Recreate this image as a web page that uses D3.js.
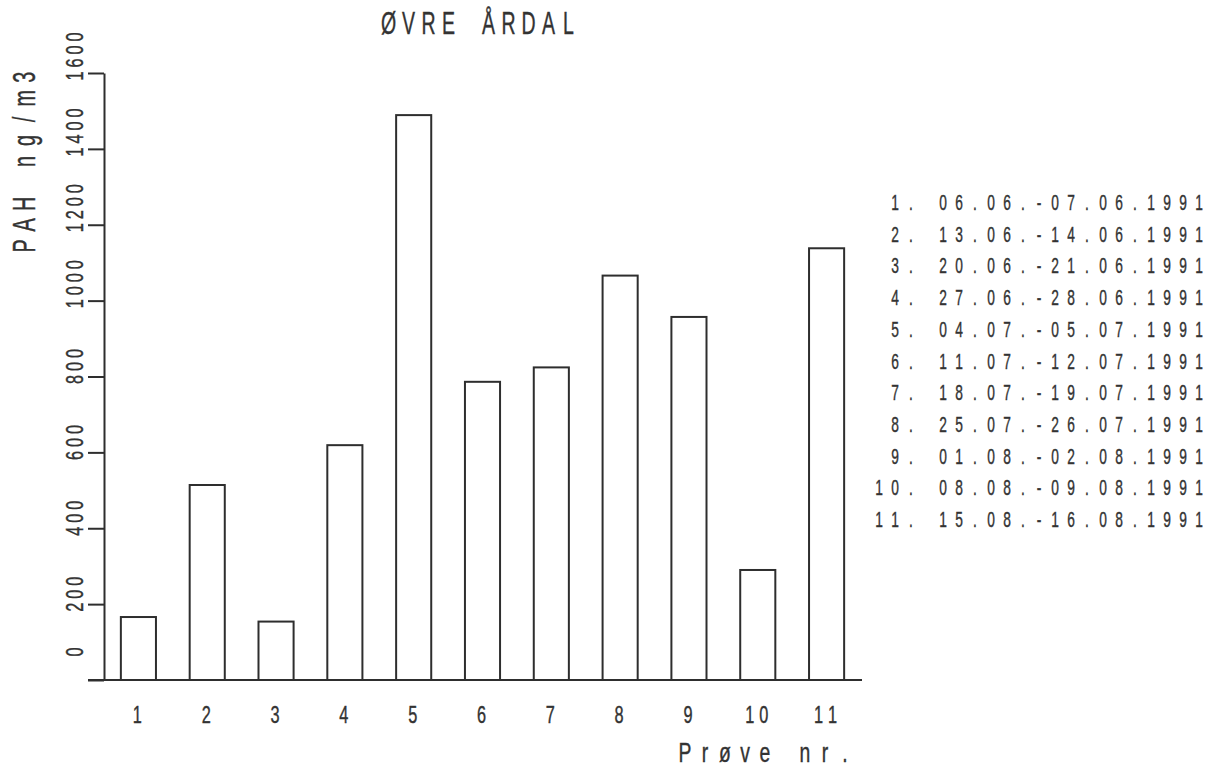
<!DOCTYPE html>
<html>
<head>
<meta charset="utf-8">
<script src="https://cdn.jsdelivr.net/npm/d3@7"></script>
<style>
  html, body { margin: 0; padding: 0; background: #ffffff; }
  svg { display: block; }
  text { font-family: "Liberation Sans", "DejaVu Sans", sans-serif; fill: #333333; stroke: #333333; stroke-width: 0.4; white-space: pre; }
</style>
</head>
<body>
<script>
// ---- data ----
const categories = ["1", "2", "3", "4", "5", "6", "7", "8", "9", "10", "11"];
const values = [166, 514, 154, 619, 1489, 786, 824, 1066, 957, 290, 1138];
const yTicks = [0, 200, 400, 600, 800, 1000, 1200, 1400, 1600];
const periods = [
  "06.06.-07.06.1991", "13.06.-14.06.1991", "20.06.-21.06.1991",
  "27.06.-28.06.1991", "04.07.-05.07.1991", "11.07.-12.07.1991",
  "18.07.-19.07.1991", "25.07.-26.07.1991", "01.08.-02.08.1991",
  "08.08.-09.08.1991", "15.08.-16.08.1991"
];
const title = "ØVRE ÅRDAL";
const yTitle = "PAH ng/m3";
const xTitle = "Prøve nr.";

// ---- layout ----
const W = 1214, H = 769;
const INK = "#2e2e2e";
const svg = d3.select("body").append("svg").attr("width", W).attr("height", H);

const y = d3.scaleLinear().domain([0, 1600]).range([680, 73]);
const x = d3.scaleBand().domain(categories).range([104, 861])
  .paddingInner(0.49).paddingOuter(0.245);

// plotter-style text: fixed advance per character, narrow glyphs
function plotText(str, ox, oy, adv, size, sx, rot) {
  const g = svg.append("g")
    .attr("transform", `translate(${ox},${oy}) rotate(${rot || 0}) scale(${sx},1)`);
  const xs = Array.from(str).map((c, i) => (i * adv / sx).toFixed(2)).join(" ");
  g.append("text")
    .attr("x", xs)
    .attr("y", 0)
    .attr("text-anchor", "middle")
    .attr("font-size", size)
    .text(str);
  return g;
}

// ---- bars ----
svg.append("g").selectAll("rect").data(values).join("rect")
  .attr("x", (d, i) => x(categories[i]))
  .attr("y", d => y(d))
  .attr("width", x.bandwidth())
  .attr("height", d => y(0) - y(d))
  .attr("fill", "#ffffff")
  .attr("stroke", INK)
  .attr("stroke-width", 2);

// ---- y axis ----
const yAxis = svg.append("g").attr("transform", "translate(104,0)")
  .call(d3.axisLeft(y).tickValues(yTicks).tickSize(16).tickSizeOuter(0).tickFormat(""));
yAxis.select(".domain").attr("stroke", INK).attr("stroke-width", 2);
yAxis.selectAll(".tick line").attr("stroke", INK).attr("stroke-width", 2);

// x baseline
svg.append("line")
  .attr("x1", 88).attr("x2", 862)
  .attr("y1", y(0)).attr("y2", y(0))
  .attr("stroke", INK).attr("stroke-width", 2);

// y tick labels (rotated, reading upward)
const digitAdv = 13, digitSize = 24, digitSx = 0.68;
yTicks.forEach(v => {
  const label = String(v);
  const firstCenter = v === 0 ? 652 : y(v) + 3;
  plotText(label, 83, firstCenter, digitAdv, digitSize, digitSx, -90);
});

// x tick labels
categories.forEach(c => {
  const center = x(c) + x.bandwidth() / 2 - 1;
  const n = c.length;
  const first = center - (n - 1) * 14 / 2;
  plotText(c, first, 723, 14, digitSize, digitSx, 0);
});

// titles
plotText(title, 388.5, 34, 20, 30.5, 0.64, 0);
plotText(yTitle, 35, 246, 21.1, 31, 0.64, -90);
plotText(xTitle, 685, 762, 20, 28.5, 0.68, 0);

// legend list (right aligned, monospaced)
const legAdv = 16, legSize = 21.5, legSx = 0.64;
periods.forEach((p, i) => {
  const num = String(i + 1) + ".";
  const line = (num.length < 3 ? " " : "") + num + " " + p;
  const first = 1199 - (line.length - 1) * legAdv;
  plotText(line, first, 210 + i * 31.7, legAdv, legSize, legSx, 0);
});
</script>
</body>
</html>
